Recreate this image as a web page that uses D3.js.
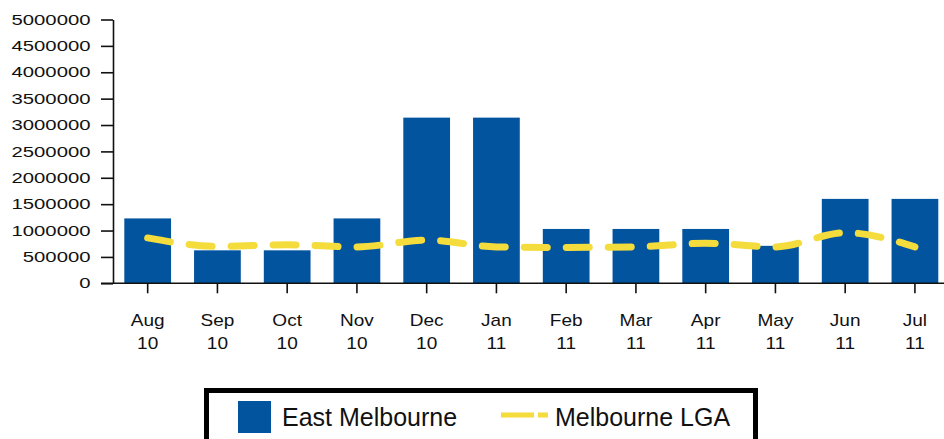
<!DOCTYPE html>
<html>
<head>
<meta charset="utf-8">
<script src="https://cdn.jsdelivr.net/npm/d3@7"></script>
<style>
  body { margin: 0; background: #fff; }
  text { font-family: "Liberation Sans", Arial, sans-serif; fill: #111; }
</style>
</head>
<body>
<script>
// chart data
var months = ["Aug", "Sep", "Oct", "Nov", "Dec", "Jan", "Feb", "Mar", "Apr", "May", "Jun", "Jul"];
var years = ["10", "10", "10", "10", "10", "11", "11", "11", "11", "11", "11", "11"];
var eastMelbourne = [1230000, 625000, 625000, 1230000, 3140000, 3140000, 1030000, 1030000, 1030000, 710000, 1600000, 1600000];
var melbourneLGA = [860000, 700000, 730000, 690000, 820000, 690000, 680000, 690000, 760000, 690000, 960000, 690000];
var yTicks = [0, 500000, 1000000, 1500000, 2000000, 2500000, 3000000, 3500000, 4000000, 4500000, 5000000];
var seriesNames = ["East Melbourne", "Melbourne LGA"];

var categories = months.map(function (m, i) { return m + " " + years[i]; });

var w = 944, h = 439;
var barColor = "#03549f", lineColor = "#f4dc3c";

var svg = d3.select("body").append("svg")
  .attr("width", w)
  .attr("height", h);

var x = d3.scaleBand()
  .domain(categories)
  .range([112.8, 949.8])
  .paddingInner(0.33)
  .paddingOuter(0.165);

var y = d3.scaleLinear()
  .domain([0, 5000000])
  .range([283.3, 19.5]);

// bars
svg.selectAll("rect.bar")
  .data(eastMelbourne)
  .enter()
  .append("rect")
  .attr("class", "bar")
  .attr("x", function (d, i) { return x(categories[i]); })
  .attr("y", function (d) { return y(d); })
  .attr("width", x.bandwidth())
  .attr("height", function (d) { return y(0) - y(d); })
  .attr("fill", barColor);

// y axis
var ySx = 1.4;
var yAxis = svg.append("g")
  .attr("transform", "translate(113,0)")
  .call(d3.axisLeft(y).tickValues(yTicks).tickFormat(d3.format("d")).tickSize(12).tickSizeOuter(0));
yAxis.selectAll("path, line").attr("stroke", "#111").attr("stroke-width", 1.6);
yAxis.selectAll("text")
  .attr("font-size", "14.5px")
  .attr("font-family", "Liberation Sans, Arial, sans-serif")
  .attr("fill", "#111")
  .attr("x", -22.5 / ySx)
  .attr("transform", "scale(" + ySx + ",1)");

// x axis
var xSx = 1.12;
var xAxis = svg.append("g")
  .attr("transform", "translate(0,283.3)")
  .call(d3.axisBottom(x).tickSize(10).tickSizeOuter(0));
xAxis.select(".domain").remove();
xAxis.append("line")
  .attr("x1", 101).attr("x2", w)
  .attr("y1", 0).attr("y2", 0);
xAxis.selectAll("line").attr("stroke", "#111").attr("stroke-width", 1.6);
xAxis.selectAll(".tick text").each(function (d, i) {
  var t = d3.select(this);
  t.text(null)
    .attr("y", null).attr("dy", null)
    .attr("font-size", "17px")
    .attr("font-family", "Liberation Sans, Arial, sans-serif")
    .attr("fill", "#111")
    .attr("transform", "scale(" + xSx + ",1)");
  t.append("tspan").attr("x", 0).attr("y", 42.5).text(months[i]);
  t.append("tspan").attr("x", 0).attr("y", 66).text(years[i]);
});

// line
var line = d3.line()
  .x(function (d, i) { return x(categories[i]) + x.bandwidth() / 2; })
  .y(function (d) { return y(d); })
  .curve(d3.curveMonotoneX);

svg.append("path")
  .datum(melbourneLGA)
  .attr("d", line)
  .attr("fill", "none")
  .attr("stroke", lineColor)
  .attr("stroke-width", 7)
  .attr("stroke-linecap", "round")
  .attr("stroke-dasharray", "23,19");

// legend
var legend = svg.append("g");
legend.append("rect")
  .attr("x", 206.5).attr("y", 390.5)
  .attr("width", 549).attr("height", 60)
  .attr("fill", "#fff")
  .attr("stroke", "#000")
  .attr("stroke-width", 5);
legend.append("rect")
  .attr("x", 238).attr("y", 401)
  .attr("width", 33).attr("height", 32)
  .attr("fill", barColor);
legend.append("text")
  .attr("x", 282).attr("y", 425.5)
  .attr("font-size", "25px")
  .text(seriesNames[0]);
legend.append("line")
  .attr("x1", 501).attr("x2", 548)
  .attr("y1", 415).attr("y2", 415)
  .attr("stroke", lineColor)
  .attr("stroke-width", 5)
  .attr("stroke-dasharray", "33,4,10");
legend.append("text")
  .attr("x", 555).attr("y", 425.5)
  .attr("font-size", "25px")
  .text(seriesNames[1]);
</script>
</body>
</html>
